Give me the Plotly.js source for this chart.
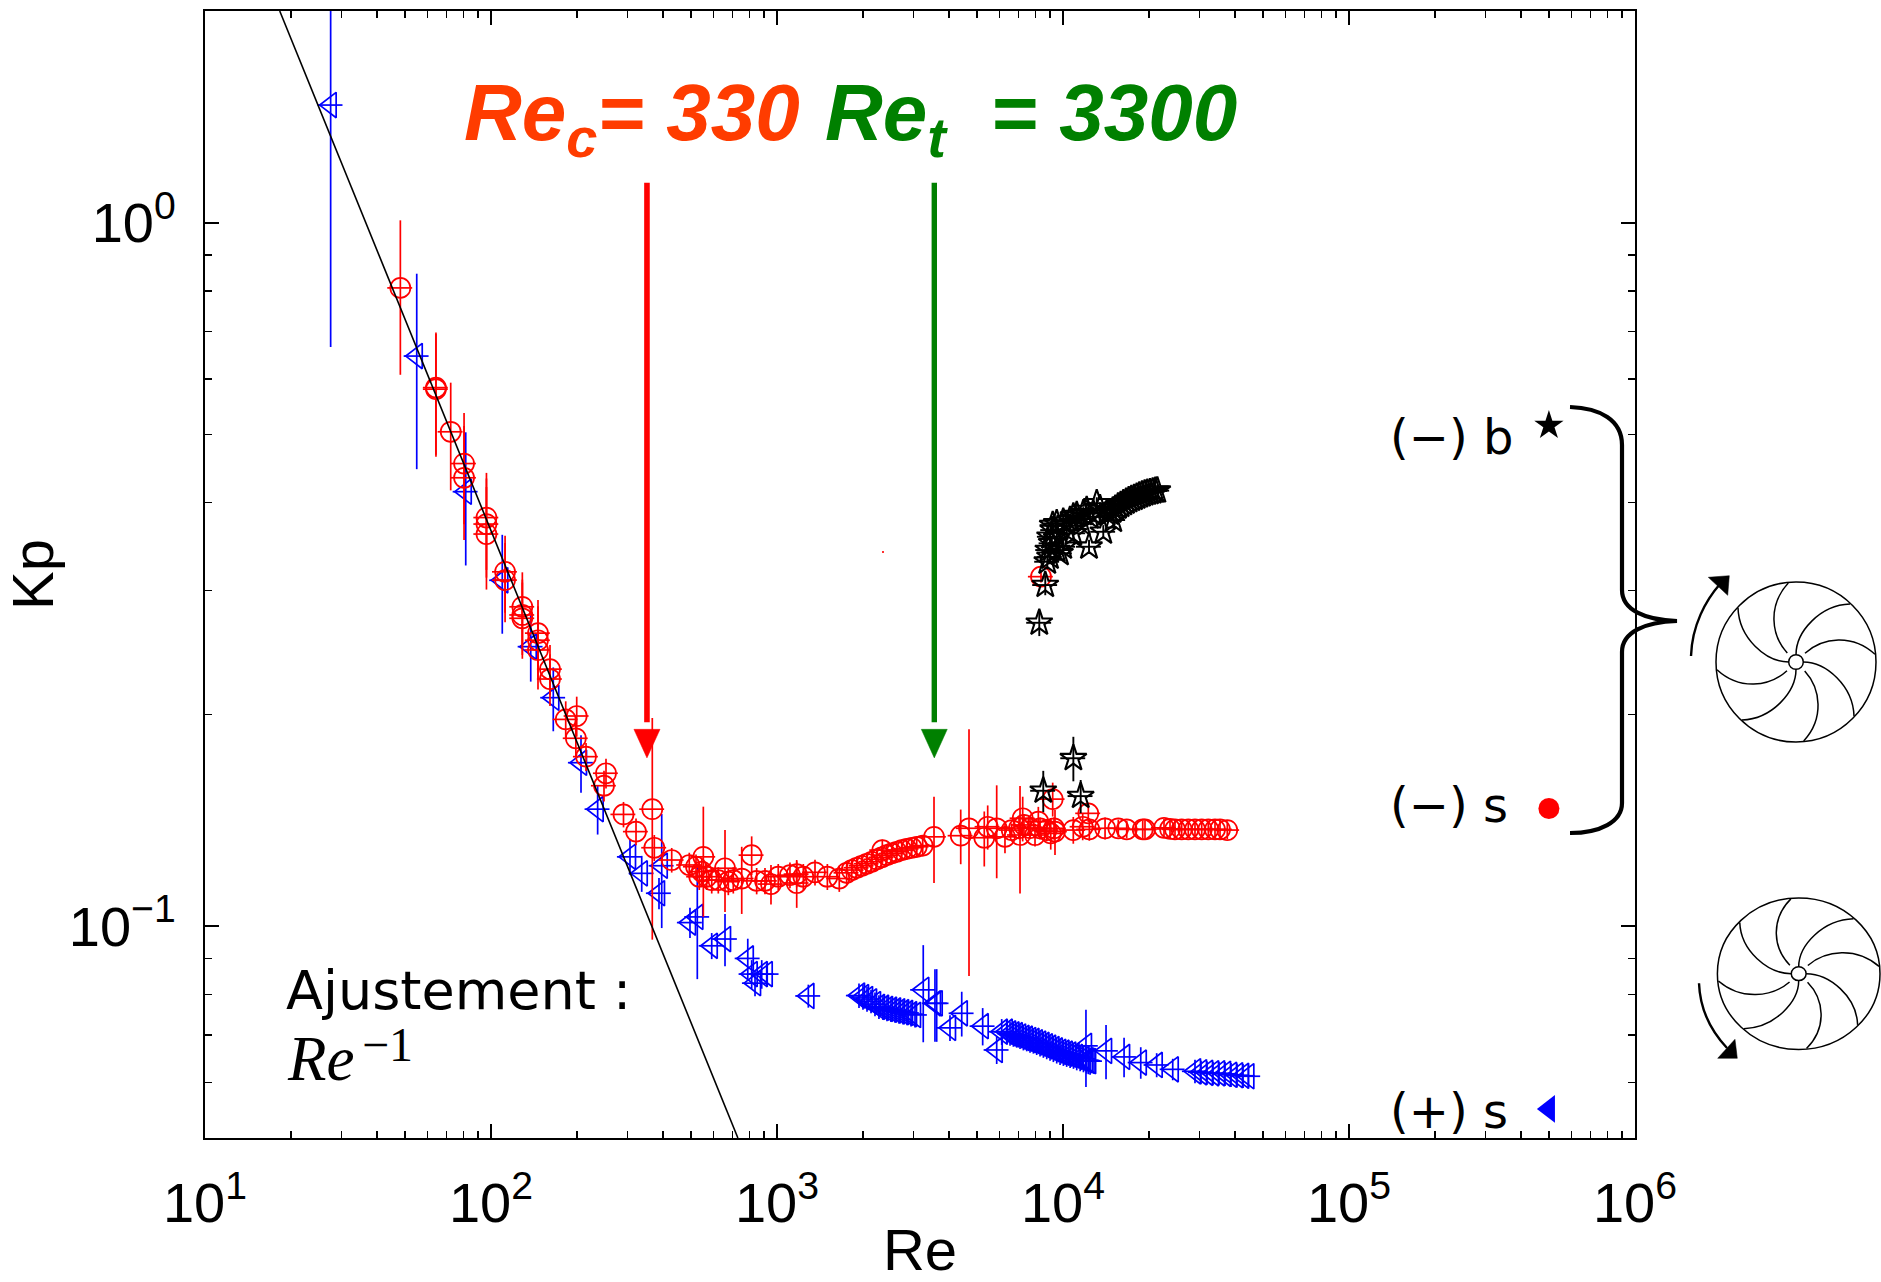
<!DOCTYPE html>
<html>
<head>
<meta charset="utf-8">
<script src="https://cdn.plot.ly/plotly-3.0.1.min.js"></script>
<style>html,body{margin:0;padding:0;background:#fff}#c{width:1881px;height:1282px}</style>
</head>
<body>
<div id="c"></div>
<script>
// ---- data (Re, Kp, symmetric Kp error) ----
const redRe = [48.2,64.2,64.2,72.3,80.5,80.5,96.4,96.4,96.4,112,112,128.7,128.7,128.7,146,146,146,160.8,160.8,199.4,182.5,198,214.9,252.4,248.4,290.6,321.4,366.4,372.4,428.4,493.5,521,552.6,534.8,545.6,567.7,591.2,623.4,658,675.8,703.4,752.8,815.5,849,907.8,952.8,1010,1110,1172,1172,1236,1358,1500,1651,
1752,1825,1900,1978,2059,2143,2232,2323,2419,2518,2621,2729,2841,2958,3080,3232,2335,3540,
4389,4692,5306,5454,5864,6268,6616,7075,7018,7229,7304,7670,7983,8198,8312,8770,9060,9301,9204,9376,10865,11720,12260,12360,14030,15610,16700,19000,19350,22550,23670,24640,26000,27420,28940,30550,32210,34000,35400,37530,8376];
const redKp = [.808,.583,.58,.5045,.4547,.434,.381,.373,.361,.319,.3105,.2845,.277,.274,.261,.255,.247,.232,.2246,.199,.1968,.185,.1742,.165,.1584,.1442,.1363,.1467,.1293,.1242,.1222,.1215,.1255,.1176,.1196,.1176,.1163,.1163,.1209,.1157,.1163,.1169,.1262,.116,.116,.1148,.1176,.1182,.1186,.1152,.1176,.1193,.1176,.1169,
.1191,.1202,.1211,.1219,.1227,.1235,.1245,.1253,.1262,.1269,.1276,.1283,.1288,.1293,.1297,.1302,.1283,.134,
.1345,.1378,.1336,.1385,.1378,.134,.137,.1348,.1379,.1424,.1393,.1379,.1348,.1408,.1378,.137,.1355,.1378,.1516,.1363,.137,.1385,.1447,.1373,.1378,.1378,.1373,.1373,.1373,.138,.1375,.1373,.1373,.1373,.1373,.1373,.1373,.1373,.1373,.137,.314];
const redErr = [.2,.115,.115,.088,.082,.08,.06,.06,.06,.04,.04,.034,.034,.034,.03,.03,.03,.019,.019,.013,.012,.011,.008,.008,.008,.006,.006,.051,.0055,.005,.005,.005,.0224,.005,.005,.005,.005,.005,.0161,.005,.005,.0128,.008,.005,.005,.0074,.005,.005,.005,.009,.005,.005,.005,.005,
.0045,.0045,.0045,.0045,.0045,.0045,.0045,.0045,.0045,.0045,.0045,.0045,.0045,.0045,.0045,.0045,.0045,.0188,
.012,.0528,.012,.01,.0208,.007,.003,.0235,.005,.0104,.005,.005,.005,.007,.005,.005,.007,.005,.0084,.01,.006,.006,.004,.005,.005,.004,.004,.004,.004,.004,.004,.004,.004,.004,.004,.004,.004,.004,.004,.004,.006];

const blueRe = [27.5,55,81.6,109.5,137.7,165.1,206.4,236,306.2,336.5,395.3,386.7,496.3,526.4,591.2,658,790.3,815.5,884.3,837.8,920.4,1287,
1935,1998,2064,2132,2201,2272,2347,2424,2503,2586,2671,2758,2848,2942,3038,
3246,3567,3617,4425,4026,5238,5864,6105,
6355,6528,6706,6888,7076,7268,7466,7669,7878,8092,8313,8539,8771,9010,9255,9507,9766,10030,10300,10590,10880,11170,11480,11790,12110,12280,12440,
12030,14140,16350,18700,21260,24190,
28940,30370,31880,33450,35110,36850,38670,40590,42600,44460];
const blueKp = [1.47,.6464,.4147,.3103,.2497,.2113,.1708,.1467,.1255,.1189,.1219,.1114,.1012,.1031,.0938,.0959,.09,.0855,.0855,.083,.0855,.0796,
.0797,.0793,.0788,.0782,.0775,.0768,.0766,.0763,.0761,.0759,.0757,.0755,.0753,.075,.0748,
.0812,.0777,.0777,.0752,.0717,.0721,.0667,.0708,
.0708,.0704,.0702,.07,.0697,.0694,.0692,.0689,.0687,.0684,.0681,.0678,.0675,.0672,.0669,.0666,.0663,.0661,.0659,.0657,.0655,.0652,.065,.0648,.0645,.0644,.0643,
.0676,.0665,.0652,.064,.0635,.0626,
.0622,.062,.0619,.0618,.0618,.0617,.0615,.0614,.0613,.0612];
const blueErr = [.804,.2,.089,.0498,.027,.022,.016,.0117,.0071,.007,.0225,.0057,.005,.019,.004,.0082,.006,.004,.004,.0035,.003,.003,
.0032,.0032,.0032,.003,.003,.003,.003,.003,.003,.003,.003,.003,.003,.003,.003,
.0128,.0092,.0092,.0055,.003,.0044,.003,.003,
.0028,.0028,.0028,.0028,.0028,.0028,.0028,.0028,.0028,.0028,.0028,.0028,.0028,.0028,.0028,.0028,.0028,.0028,.0028,.0028,.0028,.0028,.0028,.0028,.0028,.0028,.0028,
.0085,.0059,.0042,.0033,.0025,.0022,
.0024,.0024,.0024,.0024,.0024,.0024,.0024,.0024,.0024,.0024];

const starRe = [8262,8670,8812,8885,9006,9130,9250,9006,9204,9506,9506,9761,10020,10300,10580,10870,11170,11630,12100,12430,13120,13470,13830,12330,14990,9506,10020,10870,11780,12760,14220,
14600,14920,15240,15570,15910,16260,16610,16970,17340,17720,18100,18490,18890,19300,19720,20150,20590,21030,21370,
10870,8531,11530];
const starKp = [.27,.3055,.3297,.3426,.335,.3502,.3657,.3578,.3717,.3426,.3559,.3389,.3463,.3657,.3779,.3619,.3841,.3738,.3905,.3821,.3992,.3926,.3637,.3463,.3779,.3738,.3758,.3821,.3863,.3863,.3863,
.387,.3896,.3922,.3948,.397,.3992,.4013,.4032,.4049,.4062,.4079,.4093,.4107,.412,.413,.4139,.4147,.4157,.4161,
.1733,.1558,.1531];
const starErr = [.0115,.01,.008,.008,.008,.008,.008,.008,.008,.008,.008,.008,.008,.008,.008,.008,.008,.008,.008,.008,.008,.008,.008,.008,.008,.008,.008,.008,.008,.008,.008,
.008,.008,.008,.008,.008,.008,.008,.008,.008,.008,.008,.008,.008,.008,.008,.008,.008,.008,.008,
.0126,.0105,.0083];

const fitRe = [18.25,730];
const fitKp = [2,0.05];

const arrowRedRe = [351,351];
const arrowGreenRe = [3548,3548];
const arrowKp = [1.14,0.195];
const headRedRe = [316,390,351,316];
const headGreenRe = [3196,3938,3548,3196];
const headKp = [0.1905,0.1905,0.1735,0.1905];

const keyRe = [5e5];
const keyStarKp = [0.515];
const keyCircleKp = [0.147];
const keyTriKp = [0.055];

const xTickVals = [10,100,1000,10000,100000,1000000];
const xTickText = ['10<sup>1</sup>','10<sup>2</sup>','10<sup>3</sup>','10<sup>4</sup>','10<sup>5</sup>','10<sup>6</sup>'];
const yTickVals = [0.1,1];
const yTickText = ['10<sup>−1</sup>','10<sup>0</sup>'];
const xMinor = [20,30,40,50,60,70,80,90,200,300,400,500,600,700,800,900,2000,3000,4000,5000,6000,7000,8000,9000,20000,30000,40000,50000,60000,70000,80000,90000,200000,300000,400000,500000,600000,700000,800000,900000];
const yMinor = [0.05,0.06,0.07,0.08,0.09,0.2,0.3,0.4,0.5,0.6,0.7,0.8,0.9,2];

// ---- page-space helpers for the decorations outside the data ----
const L=205,R=1635,T=11,B=1138;
const fx=p=>(p-L)/(R-L), fy=p=>(B-p)/(B-T);
const pt=(x,y)=>fx(x).toFixed(5)+' '+fy(y).toFixed(5);
function pathOf(cmds){return cmds.map(c=>c[0]+c.slice(1).map(q=>pt(q[0],q[1])).join(' ')).join(' ');}
function paperShape(cmds,opts){return Object.assign({type:'path',xref:'paper',yref:'paper',path:pathOf(cmds),line:{color:'black',width:1.5},layer:'above'},opts||{});}

function wheel(cx,cy,rx,ry){
  const out=[];
  const S=(x,y)=>[cx+x*rx/80,cy+y*ry/80];
  out.push(paperShape((()=>{const k=0.5523;return [
    ['M',S(80,0)],['C',S(80,80*k),S(80*k,80),S(0,80)],['C',S(-80*k,80),S(-80,80*k),S(-80,0)],['C',S(-80,-80*k),S(-80*k,-80),S(0,-80)],['C',S(80*k,-80),S(80,-80*k),S(80,0)]];})()));
  const h=7.3,k=0.5523;
  out.push(paperShape([['M',S(h,0)],['C',S(h,h*k),S(h*k,h),S(0,h)],['C',S(-h*k,h),S(-h,h*k),S(-h,0)],['C',S(-h,-h*k),S(-h*k,-h),S(0,-h)],['C',S(h*k,-h),S(h,-h*k),S(h,0)]]));
  const A=[[0,-7.3],[0,-30.3],[24,-57],[54,-58]];
  const Bl=[[9,-8.7],[26.7,-25],[56.7,-28.3],[79,-7.7]];
  [A,Bl].forEach(b=>{
    let p=b;
    for(let i=0;i<4;i++){
      out.push(paperShape([['M',S(p[0][0],p[0][1])],['C',S(p[1][0],p[1][1]),S(p[2][0],p[2][1]),S(p[3][0],p[3][1])]]));
      p=p.map(q=>[-q[1],q[0]]);
    }
  });
  return out;
}

const shapes=[
  paperShape([['M',[1570,407]],['C',[1600,408],[1622,420],[1622,445]],['L',[1622,590]],['C',[1622,610],[1645,620],[1677,621]],['C',[1645,622],[1622,632],[1622,652]],['L',[1622,803]],['C',[1622,822],[1600,833],[1570,833]]],{line:{color:'black',width:4.2}}),
  paperShape([['M',[1691,656]],['C',[1692,625],[1706,600],[1720,584]]],{line:{color:'black',width:2.4}}),
  paperShape([['M',[1708.3,577.3]],['L',[1729.3,575.7]],['L',[1727.7,595.3]],['Z']],{fillcolor:'black',line:{color:'black',width:0.5}}),
  paperShape([['M',[1699,983.3]],['C',[1700,1010],[1712,1032],[1727,1048]]],{line:{color:'black',width:2.4}}),
  paperShape([['M',[1717.7,1058.3]],['L',[1737.3,1058.3]],['L',[1735,1039.3]],['Z']],{fillcolor:'black',line:{color:'black',width:0.5}}),
  paperShape([['M',[882,551]],['L',[884,551]],['L',[884,553]],['L',[882,553]],['Z']],{fillcolor:'#ff3030',line:{width:0}}),
  ...wheel(1796,662,80,80),
  ...wheel(1798.7,973.7,81.3,75.8)
];

const C=(s,k,w)=>({symbol:s,size:k,line:{width:w}});
function dataTrace(x,y,e,color,marker,t){
  return {type:'scatter',mode:'markers',x,y,showlegend:false,hoverinfo:'skip',
    marker:Object.assign({color:color},marker),
    error_y:{type:'data',array:e,visible:true,color:color,thickness:t,width:0},
    error_x:{type:'percent',value:10,visible:true,color:color,thickness:t,width:0}};
}
const lineTrace=(x,y,color,w)=>({type:'scatter',mode:'lines',x,y,showlegend:false,hoverinfo:'skip',line:{color,width:w}});
const headTrace=(x,y,color)=>({type:'scatter',mode:'lines',x,y,fill:'toself',fillcolor:color,showlegend:false,hoverinfo:'skip',line:{color,width:0.5}});
const keyTrace=(y,sym,color,size)=>({type:'scatter',mode:'markers',x:keyRe,y,showlegend:false,hoverinfo:'skip',marker:{symbol:sym,color,size,line:{width:0}}});

const traces=[
  lineTrace(arrowRedRe,arrowKp,'#ff0000',5.6),
  headTrace(headRedRe,headKp,'#ff0000'),
  lineTrace(arrowGreenRe,arrowKp,'#008000',5.4),
  headTrace(headGreenRe,headKp,'#008000'),
  dataTrace(blueRe,blueKp,blueErr,'#0000ff',C('triangle-left-open',22,1.7),1.7),
  dataTrace(redRe,redKp,redErr,'#ff0000',C('circle-open',20,1.7),1.7),
  dataTrace(starRe,starKp,starErr,'#000000',C('star-open',20,2.1),1.9),
  lineTrace(fitRe,fitKp,'#000000',1.6),
  keyTrace(keyStarKp,'star','#000000',22),
  keyTrace(keyCircleKp,'circle','#ff0000',21),
  keyTrace(keyTriKp,'triangle-left','#0000ff',24)
];

const sans='"Liberation Sans", Arial, sans-serif';
const dj='"DejaVu Sans", sans-serif';
const txt=(text,px,py,font,extra)=>Object.assign({xref:'paper',yref:'paper',x:fx(px),y:fy(py),text,showarrow:false,xanchor:'left',yanchor:'middle',font,align:'left'},extra||{});
const annotations=[
  txt('<b><i>Re<sub>c</sub>= 330</i></b>',462,118,{family:sans,size:80,color:'#ff3c00'}),
  txt('<b><i>Re<sub>t</sub>&nbsp; = 3300</i></b>',823,118,{family:sans,size:80,color:'#008000'}),
  txt('Ajustement :',284,990,{family:dj,size:54,color:'#000'}),
  txt('<i>Re</i>',285,1059,{family:'"Liberation Serif", serif',size:63,color:'#000'}),
  txt('−1',360,1044,{family:'"Liberation Serif", serif',size:48,color:'#000'}),
  txt('(−) b',1388,437,{family:dj,size:48,color:'#000'}),
  txt('(−) s',1388,805,{family:dj,size:48,color:'#000'}),
  txt('(+) s',1388,1111,{family:dj,size:48,color:'#000'})
];

const layout={
  width:1881,height:1282,
  paper_bgcolor:'#fff',plot_bgcolor:'#fff',showlegend:false,
  margin:{l:L,r:1881-R,t:T,b:1282-B,pad:0},
  font:{family:sans,color:'#000'},
  xaxis:{type:'log',range:[1,6],tickmode:'array',tickvals:xTickVals,ticktext:xTickText,
    ticks:'inside',ticklen:14,tickwidth:1.5,tickcolor:'#000',showline:true,linecolor:'#000',linewidth:2,mirror:'allticks',
    showgrid:false,zeroline:false,automargin:false,ticklabelstandoff:15,
    tickfont:{family:sans,size:56,color:'#000'},
    title:{text:'Re',font:{family:sans,size:58,color:'#000'},standoff:22},
    minor:{tickmode:'array',tickvals:xMinor,ticks:'inside',ticklen:7,tickwidth:1.5,tickcolor:'#000',showgrid:false}},
  yaxis:{type:'log',range:[Math.log10(0.05),Math.log10(2)],tickmode:'array',tickvals:yTickVals,ticktext:yTickText,
    ticks:'inside',ticklen:14,tickwidth:1.5,tickcolor:'#000',showline:true,linecolor:'#000',linewidth:2,mirror:'allticks',
    showgrid:false,zeroline:false,automargin:false,ticklabelstandoff:16,
    tickfont:{family:sans,size:56,color:'#000'},
    title:{text:'Kp',font:{family:sans,size:58,color:'#000'},standoff:0},
    minor:{tickmode:'array',tickvals:yMinor,ticks:'inside',ticklen:7,tickwidth:1.5,tickcolor:'#000',showgrid:false}},
  shapes,annotations
};
Plotly.newPlot('c',traces,layout,{displayModeBar:false,staticPlot:true});
</script>
</body>
</html>
